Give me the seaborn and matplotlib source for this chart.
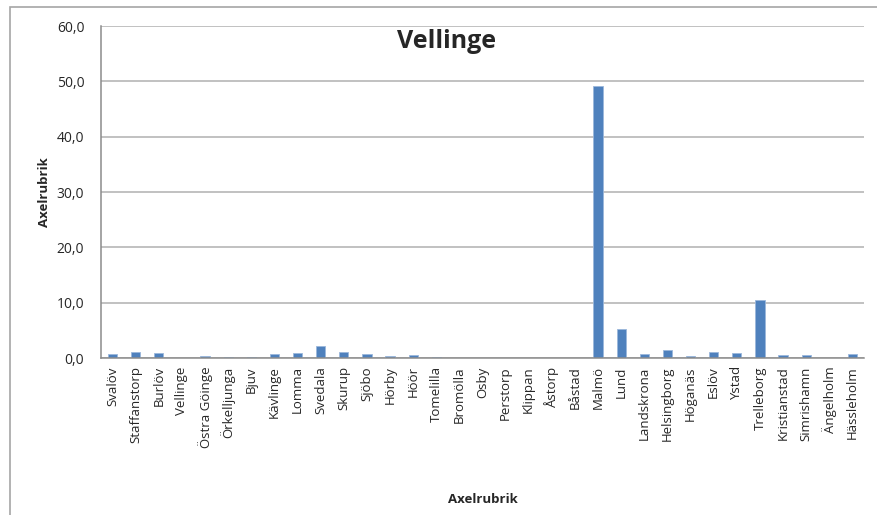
import numpy as np
import pandas as pd
import matplotlib
matplotlib.use("Agg")
import matplotlib.pyplot as plt
import matplotlib.ticker as mticker
from matplotlib.patches import Rectangle
import seaborn as sns

# Data
kommuner = [
    "Svalöv", "Staffanstorp", "Burlöv", "Vellinge", "Östra Göinge", "Örkelljunga",
    "Bjuv", "Kävlinge", "Lomma", "Svedala", "Skurup", "Sjöbo", "Hörby", "Höör",
    "Tomelilla", "Bromölla", "Osby", "Perstorp", "Klippan", "Åstorp", "Båstad",
    "Malmö", "Lund", "Landskrona", "Helsingborg", "Höganäs", "Eslöv", "Ystad",
    "Trelleborg", "Kristianstad", "Simrishamn", "Ängelholm", "Hässleholm",
]
andel = [
    0.75, 1.1, 0.9, 0.0, 0.3, 0.2,
    0.2, 0.75, 0.9, 2.2, 1.05, 0.75, 0.3, 0.5,
    0.25, 0.03, 0.03, 0.03, 0.03, 0.03, 0.03,
    49.1, 5.3, 0.75, 1.4, 0.4, 1.05, 0.85,
    10.4, 0.5, 0.5, 0.0, 0.65,
]
yticks = [0, 10, 20, 30, 40, 50, 60]

df = pd.DataFrame({"kommun": kommuner, "andel": andel})

sns.set_theme(style="white")
plt.rcParams["font.family"] = ["Open Sans", "DejaVu Sans"]

fig = plt.figure(figsize=(8.77, 5.15), dpi=100)
ax = fig.add_axes([101 / 877, 1 - 358 / 515, (864 - 101) / 877, (358 - 26) / 515])

# outer chart frame (only left/top visible in the crop)
fig.patches.append(Rectangle((10 / 877, -0.05), 1.2, 1 - 7 / 515 + 0.05,
                             transform=fig.transFigure, fill=False,
                             edgecolor="#a6a6a6", linewidth=1.2))

sns.barplot(data=df, x="kommun", y="andel", color="#4f81bd", saturation=1,
            width=0.4, edgecolor="#9bb7db", linewidth=0.6, ax=ax)

ax.set_ylim(0, 60)
ax.set_yticks(yticks)
ax.yaxis.set_major_formatter(mticker.FuncFormatter(lambda v, p: f"{v:.1f}".replace(".", ",")))
ax.grid(axis="y", color="#b0b0b0", linewidth=1.1)
ax.set_axisbelow(True)
for s in ["top", "right"]:
    ax.spines[s].set_visible(False)
for s in ["left", "bottom"]:
    ax.spines[s].set_color("#8c8c8c")
    ax.spines[s].set_linewidth(1.1)

ax.tick_params(axis="x", labelrotation=90, labelsize=9.5, pad=6, length=0)
ax.tick_params(axis="y", labelsize=10, pad=12, length=0)
ax.set_xlim(-0.5, len(kommuner) - 0.5)

ax.set_xlabel("Axelrubrik", fontsize=9.5, fontweight="bold")
ax.set_ylabel("Axelrubrik", fontsize=9.5, fontweight="bold")
ax.xaxis.set_label_coords(0.5, -(493 - 358) / 332)
ax.yaxis.set_label_coords(-(101 - 51) / 763, 0.5)
fig.text(447 / 877, 1 - 42 / 515, "Vellinge", ha="center", va="center",
         fontsize=18, fontweight="bold")

fig.savefig("out.png", dpi=100)
